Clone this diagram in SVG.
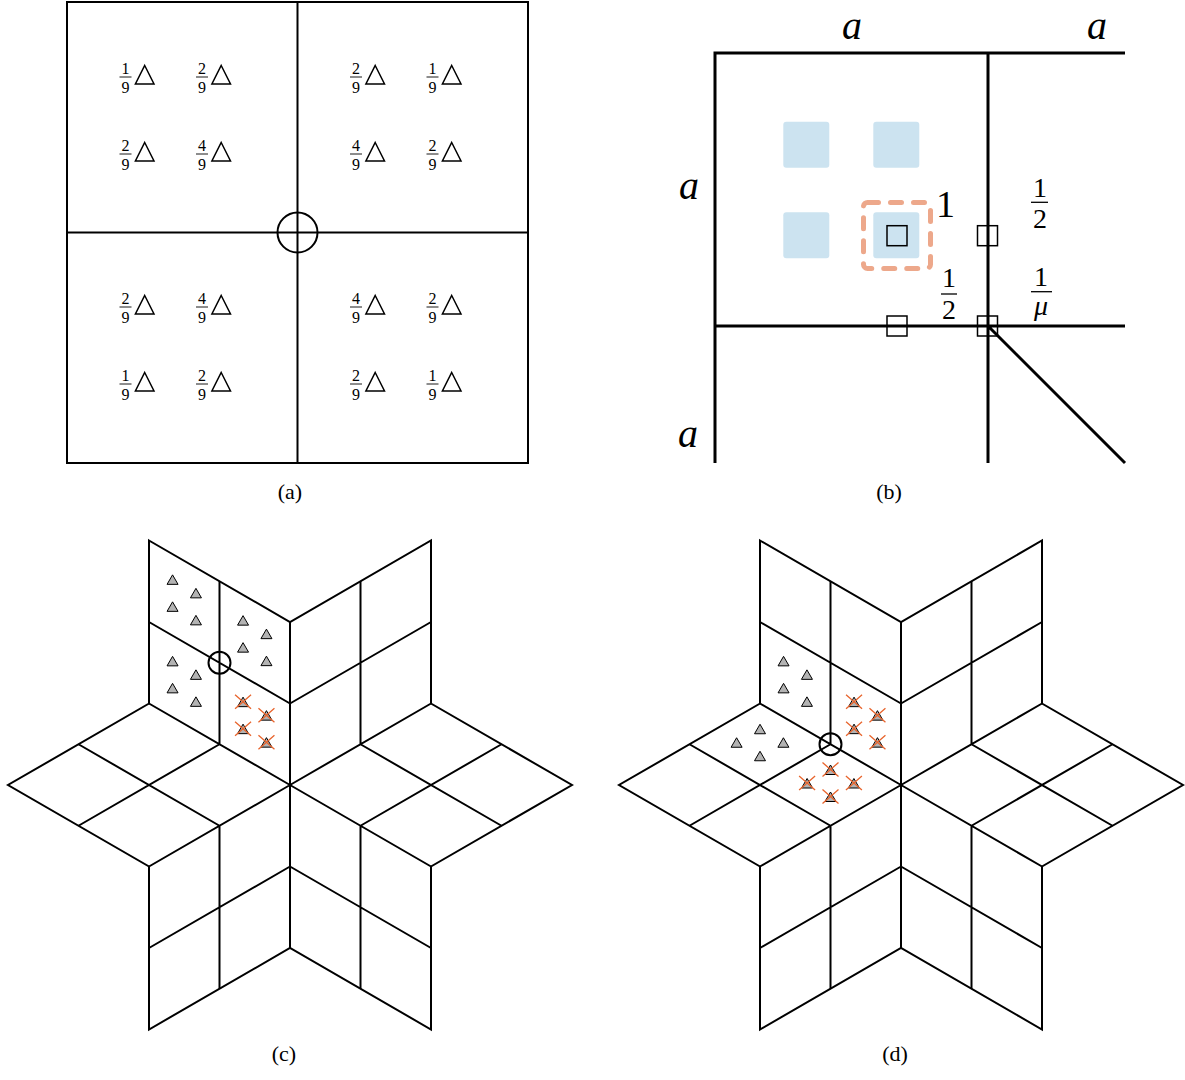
<svg xmlns="http://www.w3.org/2000/svg" xmlns:xlink="http://www.w3.org/1999/xlink" width="1185" height="1080" viewBox="0 0 1185 1080">
<style>
.ln{fill:none;stroke:#000;stroke-width:2}
.thk{fill:none;stroke:#000;stroke-width:3}
.num{font-family:"Liberation Serif",serif;font-size:16px;text-anchor:middle;fill:#000}
.bar{stroke:#000;stroke-width:0.9}
.tri{fill:none;stroke:#000;stroke-width:1.5;stroke-linejoin:miter}
.cap{font-family:"Liberation Serif",serif;font-size:22px;text-anchor:middle;fill:#000}
.ita{font-family:"Liberation Serif",serif;font-style:italic;fill:#000;text-anchor:middle}
.big{font-family:"Liberation Serif",serif;fill:#000;text-anchor:middle}
.blue{fill:#cce3f0}
.sq{fill:none;stroke:#000;stroke-width:1.5}
.gt{fill:#b3b3b3;stroke:#000;stroke-width:1}
.x{stroke:#e8642c;stroke-width:1.3;fill:none}
</style>
<defs>
<path id="bt" d="M0,-11.5 L9.3,7 L-9.3,7 Z" class="tri"/>
<path id="st" d="M0,-6.5 L5.5,3 L-5.5,3 Z" class="gt"/>
<g id="sx"><path d="M0,-6.5 L5.5,3 L-5.5,3 Z" class="gt"/><path d="M-8,-9 L8,5 M8,-9 L-8,5" class="x"/></g>
<g id="star">
<polygon class="ln" points="-141,-244.5 0,-163 141,-244.5 141,-81.5 282,0 141,81.5 141,244.5 0,163 -141,244.5 -141,81.5 -282,0 -141,-81.5"/>
<path class="ln" d="M0,0 L0,-163 M0,0 L-141,-81.5 M0,0 L-141,81.5 M0,0 L0,163 M0,0 L141,81.5 M0,0 L141,-81.5
M0,-81.5 L-141,-163 M-70.5,-40.75 L-70.5,-203.75 M0,-81.5 L141,-163 M70.5,-40.75 L70.5,-203.75
M70.5,-40.75 L211.5,40.75 M70.5,40.75 L211.5,-40.75 M70.5,40.75 L70.5,203.75 M0,81.5 L141,163
M0,81.5 L-141,163 M-70.5,40.75 L-70.5,203.75 M-70.5,40.75 L-211.5,-40.75 M-70.5,-40.75 L-211.5,40.75"/>
</g>
</defs>
<rect width="1185" height="1080" fill="#fff"/>

<!-- (a) -->
<g id="panel-a">
<rect class="ln" x="67" y="2" width="461" height="461"/>
<path class="ln" d="M297.5,2 L297.5,463 M67,232.5 L528,232.5"/>
<circle class="ln" cx="297.5" cy="232.5" r="20" stroke-width="2.5"/>
<g id="a-labels">
<g id="a1"><text class="num" x="125.5" y="74">1</text><line class="bar" x1="119.5" y1="77" x2="131.5" y2="77"/><text class="num" x="125.5" y="93">9</text><use href="#bt" x="144.7" y="77"/></g>
<g id="a2"><text class="num" x="202" y="74">2</text><line class="bar" x1="196" y1="77" x2="208" y2="77"/><text class="num" x="202" y="93">9</text><use href="#bt" x="221.2" y="77"/></g>
<g id="a3"><text class="num" x="125.5" y="151">2</text><line class="bar" x1="119.5" y1="154" x2="131.5" y2="154"/><text class="num" x="125.5" y="170">9</text><use href="#bt" x="144.7" y="154"/></g>
<g id="a4"><text class="num" x="202" y="151">4</text><line class="bar" x1="196" y1="154" x2="208" y2="154"/><text class="num" x="202" y="170">9</text><use href="#bt" x="221.2" y="154"/></g>
<g id="a5"><text class="num" x="356" y="74">2</text><line class="bar" x1="350" y1="77" x2="362" y2="77"/><text class="num" x="356" y="93">9</text><use href="#bt" x="375.2" y="77"/></g>
<g id="a6"><text class="num" x="432.5" y="74">1</text><line class="bar" x1="426.5" y1="77" x2="438.5" y2="77"/><text class="num" x="432.5" y="93">9</text><use href="#bt" x="451.7" y="77"/></g>
<g id="a7"><text class="num" x="356" y="151">4</text><line class="bar" x1="350" y1="154" x2="362" y2="154"/><text class="num" x="356" y="170">9</text><use href="#bt" x="375.2" y="154"/></g>
<g id="a8"><text class="num" x="432.5" y="151">2</text><line class="bar" x1="426.5" y1="154" x2="438.5" y2="154"/><text class="num" x="432.5" y="170">9</text><use href="#bt" x="451.7" y="154"/></g>
<g id="a9"><text class="num" x="125.5" y="304">2</text><line class="bar" x1="119.5" y1="307" x2="131.5" y2="307"/><text class="num" x="125.5" y="323">9</text><use href="#bt" x="144.7" y="307"/></g>
<g id="a10"><text class="num" x="202" y="304">4</text><line class="bar" x1="196" y1="307" x2="208" y2="307"/><text class="num" x="202" y="323">9</text><use href="#bt" x="221.2" y="307"/></g>
<g id="a11"><text class="num" x="125.5" y="381">1</text><line class="bar" x1="119.5" y1="384" x2="131.5" y2="384"/><text class="num" x="125.5" y="400">9</text><use href="#bt" x="144.7" y="384"/></g>
<g id="a12"><text class="num" x="202" y="381">2</text><line class="bar" x1="196" y1="384" x2="208" y2="384"/><text class="num" x="202" y="400">9</text><use href="#bt" x="221.2" y="384"/></g>
<g id="a13"><text class="num" x="356" y="304">4</text><line class="bar" x1="350" y1="307" x2="362" y2="307"/><text class="num" x="356" y="323">9</text><use href="#bt" x="375.2" y="307"/></g>
<g id="a14"><text class="num" x="432.5" y="304">2</text><line class="bar" x1="426.5" y1="307" x2="438.5" y2="307"/><text class="num" x="432.5" y="323">9</text><use href="#bt" x="451.7" y="307"/></g>
<g id="a15"><text class="num" x="356" y="381">2</text><line class="bar" x1="350" y1="384" x2="362" y2="384"/><text class="num" x="356" y="400">9</text><use href="#bt" x="375.2" y="384"/></g>
<g id="a16"><text class="num" x="432.5" y="381">1</text><line class="bar" x1="426.5" y1="384" x2="438.5" y2="384"/><text class="num" x="432.5" y="400">9</text><use href="#bt" x="451.7" y="384"/></g>
</g>
<text class="cap" x="290" y="499">(a)</text>
</g>

<!-- (b) -->
<g id="panel-b">
<rect class="blue" x="783.3" y="121.7" width="46" height="46" rx="3"/>
<rect class="blue" x="873.3" y="121.7" width="46" height="46" rx="3"/>
<rect class="blue" x="783.3" y="212.3" width="46" height="46" rx="3"/>
<rect class="blue" x="873.3" y="212.3" width="46" height="46" rx="3"/>
<rect x="863.5" y="202.5" width="67" height="66" rx="4" fill="none" stroke="#eda88b" stroke-width="5" stroke-linecap="round" stroke-dasharray="11 12"/>
<path class="thk" d="M715,463 L715,53 L1125,53 M988,53 L988,463 M715,326 L1125,326 M988,326 L1125,463"/>
<rect class="sq" x="887" y="225.7" width="20" height="20"/>
<rect class="sq" x="977.5" y="225.7" width="20" height="20"/>
<rect class="sq" x="887" y="316" width="20" height="20"/>
<rect class="sq" x="977.5" y="316" width="20" height="20"/>
<text class="ita" x="852" y="39" font-size="40">a</text>
<text class="ita" x="1097" y="39" font-size="40">a</text>
<text class="ita" x="689" y="199" font-size="40">a</text>
<text class="ita" x="688" y="447" font-size="40">a</text>
<text class="big" x="945.5" y="217" font-size="38">1</text>
<text class="big" x="1040" y="197" font-size="28">1</text><line x1="1031" y1="202.3" x2="1048" y2="202.3" stroke="#000" stroke-width="1.3"/><text class="big" x="1040" y="228" font-size="28">2</text>
<text class="big" x="949" y="287" font-size="28">1</text><line x1="941" y1="294" x2="957" y2="294" stroke="#000" stroke-width="1.3"/><text class="big" x="949" y="319" font-size="28">2</text>
<text class="big" x="1041" y="286" font-size="28">1</text><line x1="1031" y1="291.7" x2="1052" y2="291.7" stroke="#000" stroke-width="1.3"/><text class="ita" x="1041" y="315" font-size="28">μ</text>
<text class="cap" x="889" y="499">(b)</text>
</g>

<!-- (c) -->
<g id="panel-c">
<use href="#star" x="290" y="785"/>
<circle class="ln" cx="219.5" cy="662.75" r="11" stroke-width="2.5"/>
<use href="#st" x="172.55" y="581.35"/><use href="#st" x="195.95" y="594.85"/><use href="#st" x="172.55" y="608.35"/><use href="#st" x="195.95" y="621.85"/>
<use href="#st" x="172.55" y="662.85"/><use href="#st" x="195.95" y="676.35"/><use href="#st" x="172.55" y="689.85"/><use href="#st" x="195.95" y="703.35"/>
<use href="#st" x="243.05" y="622.15"/><use href="#st" x="266.45" y="635.65"/><use href="#st" x="243.05" y="649.15"/><use href="#st" x="266.45" y="662.65"/>
<use href="#sx" x="243.05" y="703.65"/><use href="#sx" x="266.45" y="717.15"/><use href="#sx" x="243.05" y="730.65"/><use href="#sx" x="266.45" y="744.15"/>
<text class="cap" x="284" y="1061">(c)</text>
</g>

<!-- (d) -->
<g id="panel-d">
<use href="#star" x="901" y="785"/>
<circle class="ln" cx="830.5" cy="744.25" r="11" stroke-width="2.5"/>
<use href="#st" x="783.55" y="662.85"/><use href="#st" x="806.95" y="676.35"/><use href="#st" x="783.55" y="689.85"/><use href="#st" x="806.95" y="703.35"/>
<use href="#sx" x="854.05" y="703.65"/><use href="#sx" x="877.45" y="717.15"/><use href="#sx" x="854.05" y="730.65"/><use href="#sx" x="877.45" y="744.15"/>
<use href="#st" x="760" y="730.75"/><use href="#st" x="736.6" y="744.25"/><use href="#st" x="783.4" y="744.25"/><use href="#st" x="760" y="757.75"/>
<use href="#sx" x="830.5" y="771.5"/><use href="#sx" x="807.1" y="785"/><use href="#sx" x="853.9" y="785"/><use href="#sx" x="830.5" y="798.5"/>
<text class="cap" x="895" y="1061">(d)</text>
</g>
</svg>
